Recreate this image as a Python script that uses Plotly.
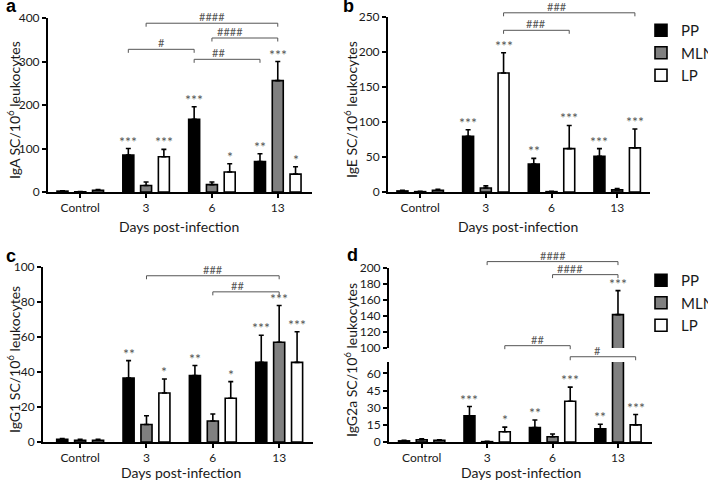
import plotly.graph_objects as go

# ---------------- data ----------------
categories = ["Control", "3", "6", "13"]
series_names = ["PP", "MLN", "LP"]

# Panel a: IgA
a_pp = [2, 85, 167, 70]
a_pp_err = [1, 15, 29, 18]
a_mln = [0.5, 15, 17, 256]
a_mln_err = [0.5, 8, 6, 44]
a_lp = [4, 81, 46, 41]
a_lp_err = [1.5, 17, 19, 17]
a_stars = [["", "***", "***", "**"], ["", "", "", "***"], ["", "***", "*", "*"]]

# Panel b: IgE
b_pp = [1.5, 79.5, 40, 51]
b_pp_err = [1, 9.5, 8, 11]
b_mln = [0.5, 5.7, 0.5, 3]
b_mln_err = [0.5, 3, 0.5, 2]
b_lp = [2.5, 170, 62, 63]
b_lp_err = [1.5, 29, 33, 27]
b_stars = [["", "***", "**", "***"], ["", "", "", ""], ["", "***", "***", "***"]]

# Panel c: IgG1
c_pp = [1.5, 36.5, 38, 45.5]
c_pp_err = [0.5, 10, 5.7, 15.5]
c_mln = [1, 10, 12, 57]
c_mln_err = [0.5, 5, 4, 21]
c_lp = [1, 28, 25, 45.5]
c_lp_err = [0.5, 8, 9.5, 17.5]
c_stars = [["", "**", "**", "***"], ["", "", "", "***"], ["", "*", "*", "***"]]

# Panel d: IgG2a
d_pp = [1, 23, 12.7, 11.5]
d_pp_err = [0.5, 8, 6.6, 4]
d_mln = [2, 0.3, 4.6, 141.7]
d_mln_err = [0.7, 0.3, 2.4, 30]
d_lp = [1.5, 9, 35.7, 15]
d_lp_err = [0.5, 4, 12.3, 9]
d_stars = [["", "***", "**", "**"], ["", "", "", "***"], ["", "*", "***", "***"]]

# significance brackets: (series index, from category, to category, height, label)
a_br_series = [1, 1, 0, 0]
a_br_from = [1, 2, 1, 2]
a_br_to = [3, 3, 2, 3]
a_br_y = [388, 354, 328, 305]
a_br_lab = ["####", "####", "#", "##"]

b_br_series = [2, 2]
b_br_from = [1, 1]
b_br_to = [3, 2]
b_br_y = [256, 231]
b_br_lab = ["###", "###"]

c_br_series = [1, 1]
c_br_from = [1, 2]
c_br_to = [3, 3]
c_br_y = [95, 85.8]
c_br_lab = ["###", "##"]

# panel d: brackets on the upper (100-200) segment
d_brU_series = [1, 1, 2]
d_brU_from = [1, 2, 1]
d_brU_to = [3, 3, 2]
d_brU_y = [208, 191.7, 102.9]
d_brU_lab = ["####", "####", "##"]
# panel d: bracket on the lower (0-70) segment
d_brL_series = [2]
d_brL_from = [2]
d_brL_to = [3]
d_brL_y = [74.6]
d_brL_lab = ["#"]

# ---------------- style ----------------
W, H = 708, 481
colors = ["#000000", "#808080", "#ffffff"]
offsets = [-0.27, 0.0, 0.27]
BAR_W = 0.167
FONT = "Lato"
TXT = "#1a1a1a"
BR_COL = "#555555"

def px_dom(x0, x1):
    return [x0 / W, x1 / W]

def py_dom(top, bottom):
    return [1 - bottom / H, 1 - top / H]

panels = {
    "a": dict(xa="x", ya="y", xdom=px_dom(48, 312), ydom=py_dom(18, 192), xr=[-0.49, 3.52], yr=[0, 400], dt=100),
    "b": dict(xa="x2", ya="y2", xdom=px_dom(388, 650), ydom=py_dom(17, 192), xr=[-0.49, 3.5], yr=[0, 250], dt=50),
    "c": dict(xa="x3", ya="y3", xdom=px_dom(43, 313), ydom=py_dom(267, 442), xr=[-0.56, 3.51], yr=[0, 100], dt=20),
    "d": dict(xa="x4", ya="y4", xdom=px_dom(389, 652), ydom=py_dom(362, 442), xr=[-0.5, 3.52], yr=[0, 70], dt=15),
}
d_upper = dict(ya="y5", ydom=py_dom(268, 348), yr=[100, 200], dt=20)

fig = go.Figure()

def add_bars(xa, ya, vals, errs, legend=None, showlegend=False):
    for s in range(3):
        fig.add_trace(go.Bar(
            x=[i + offsets[s] for i in range(len(categories))],
            y=vals[s], width=BAR_W, name=series_names[s],
            marker=dict(color=colors[s], line=dict(color="#000000", width=1.6)),
            error_y=dict(type="data", array=errs[s], arrayminus=[0] * len(errs[s]), symmetric=False,
                         color="#000000", thickness=1.6, width=2.5),
            xaxis=xa, yaxis=ya, showlegend=showlegend,
            legend=legend if legend else "legend",
            hoverinfo="skip",
        ))

def add_stars(xa, ya, vals, errs, stars, only=None):
    for s in range(3):
        for i in range(len(categories)):
            if not stars[s][i]:
                continue
            if only is not None and not only(s, i):
                continue
            fig.add_annotation(x=i + offsets[s], y=vals[s][i] + errs[s][i], xref=xa, yref=ya,
                               text=stars[s][i], showarrow=False, yanchor="bottom", yshift=-3,
                               font=dict(family=FONT, size=14, color="#555555"))

def add_brackets(xa, ya, xr, yr, plot_h, ser, f, t, ys, labs):
    tick = 3.5 / plot_h
    for k in range(len(ys)):
        x1 = (f[k] + offsets[ser[k]] - xr[0]) / (xr[1] - xr[0])
        x2 = (t[k] + offsets[ser[k]] - xr[0]) / (xr[1] - xr[0])
        yy = (ys[k] - yr[0]) / (yr[1] - yr[0])
        common = dict(type="line", xref=f"{xa} domain", yref=f"{ya} domain",
                      line=dict(color=BR_COL, width=1))
        fig.add_shape(x0=x1, x1=x2, y0=yy, y1=yy, **common)
        fig.add_shape(x0=x1, x1=x1, y0=yy, y1=yy - tick, **common)
        fig.add_shape(x0=x2, x1=x2, y0=yy, y1=yy - tick, **common)
        fig.add_annotation(x=(x1 + x2) / 2, y=yy, xref=f"{xa} domain", yref=f"{ya} domain",
                           text=labs[k], showarrow=False, yanchor="bottom", yshift=-2,
                           font=dict(family=FONT, size=11, color="#555555"))

data = {
    "a": ([a_pp, a_mln, a_lp], [a_pp_err, a_mln_err, a_lp_err], a_stars),
    "b": ([b_pp, b_mln, b_lp], [b_pp_err, b_mln_err, b_lp_err], b_stars),
    "c": ([c_pp, c_mln, c_lp], [c_pp_err, c_mln_err, c_lp_err], c_stars),
    "d": ([d_pp, d_mln, d_lp], [d_pp_err, d_mln_err, d_lp_err], d_stars),
}

for key, p in panels.items():
    vals, errs, stars = data[key]
    legend = {"b": "legend", "d": "legend2"}.get(key)
    add_bars(p["xa"], p["ya"], vals, errs, legend=legend, showlegend=legend is not None)
    if key == "d":
        add_bars("x4", "y5", vals, errs)
        add_stars("x4", "y4", vals, errs, stars, only=lambda s, i: vals[s][i] + errs[s][i] < 70)
        add_stars("x4", "y5", vals, errs, stars, only=lambda s, i: vals[s][i] + errs[s][i] >= 100)
    else:
        add_stars(p["xa"], p["ya"], vals, errs, stars)

def ph(ydom):
    return (ydom[1] - ydom[0]) * H

P = panels
add_brackets("x", "y", P["a"]["xr"], P["a"]["yr"], ph(P["a"]["ydom"]), a_br_series, a_br_from, a_br_to, a_br_y, a_br_lab)
add_brackets("x2", "y2", P["b"]["xr"], P["b"]["yr"], ph(P["b"]["ydom"]), b_br_series, b_br_from, b_br_to, b_br_y, b_br_lab)
add_brackets("x3", "y3", P["c"]["xr"], P["c"]["yr"], ph(P["c"]["ydom"]), c_br_series, c_br_from, c_br_to, c_br_y, c_br_lab)
add_brackets("x4", "y5", P["d"]["xr"], d_upper["yr"], ph(d_upper["ydom"]), d_brU_series, d_brU_from, d_brU_to, d_brU_y, d_brU_lab)
add_brackets("x4", "y4", P["d"]["xr"], P["d"]["yr"], ph(P["d"]["ydom"]), d_brL_series, d_brL_from, d_brL_to, d_brL_y, d_brL_lab)

axis_common = dict(showline=True, linecolor="#000000", linewidth=2, ticks="outside", ticklen=4,
                   tickwidth=2, tickcolor="#000000", showgrid=False, zeroline=False,
                   tickfont=dict(family=FONT, size=12, color=TXT), fixedrange=True)

layout = dict(width=W, height=H, margin=dict(l=0, r=0, t=0, b=0, autoexpand=False),
              paper_bgcolor="white", plot_bgcolor="white", barmode="overlay",
              showlegend=True)

names = {"a": ("xaxis", "yaxis"), "b": ("xaxis2", "yaxis2"), "c": ("xaxis3", "yaxis3"), "d": ("xaxis4", "yaxis4")}
for key, p in P.items():
    xn, yn = names[key]
    layout[xn] = dict(domain=p["xdom"], range=p["xr"], anchor=p["ya"], tickvals=list(range(len(categories))),
                      ticktext=categories, **axis_common)
    layout[yn] = dict(domain=p["ydom"], range=p["yr"], anchor=p["xa"], dtick=p["dt"], tick0=0, **axis_common)
layout["yaxis5"] = dict(domain=d_upper["ydom"], range=d_upper["yr"], anchor="x4", dtick=d_upper["dt"], tick0=100,
                        **axis_common)

leg_common = dict(font=dict(family=FONT, size=15, color=TXT), bgcolor="rgba(0,0,0,0)",
                  xanchor="left", yanchor="top", tracegroupgap=0, itemclick=False, itemdoubleclick=False)
layout["legend"] = dict(x=641 / W, y=1 - 14 / H, **leg_common)
layout["legend2"] = dict(x=641 / W, y=1 - 264 / H, **leg_common)

fig.update_layout(**layout)

# panel letters
for txt, x, y in [("a", 11, 6), ("b", 348, 6), ("c", 11, 256), ("d", 352, 255)]:
    fig.add_annotation(x=x / W, y=1 - y / H, xref="paper", yref="paper", text=f"<b>{txt}</b>", showarrow=False,
                       xanchor="center", yanchor="middle", font=dict(family="Liberation Sans", size=18, color="#000"))

# y-axis titles
for txt, x, y in [("IgA SC/10<sup>6</sup> leukocytes", 13, 110), ("IgE SC/10<sup>6</sup> leukocytes", 350, 110),
                  ("IgG1 SC/10<sup>6</sup> leukocytes", 13, 360), ("IgG2a SC/10<sup>6</sup> leukocytes", 350, 360)]:
    fig.add_annotation(x=x / W, y=1 - y / H, xref="paper", yref="paper", text=txt, showarrow=False, textangle=-90,
                       xanchor="center", yanchor="middle", font=dict(family=FONT, size=14, color=TXT))

# x-axis titles
for x, y in [(179, 226), (518, 226), (181, 472), (521, 472)]:
    fig.add_annotation(x=x / W, y=1 - y / H, xref="paper", yref="paper", text="Days post-infection", showarrow=False,
                       xanchor="center", yanchor="middle", font=dict(family=FONT, size=14, color=TXT))

fig.write_html("out.html", config={"displayModeBar": False},
               post_script="document.body.style.margin='0';document.body.style.overflow='hidden';")
